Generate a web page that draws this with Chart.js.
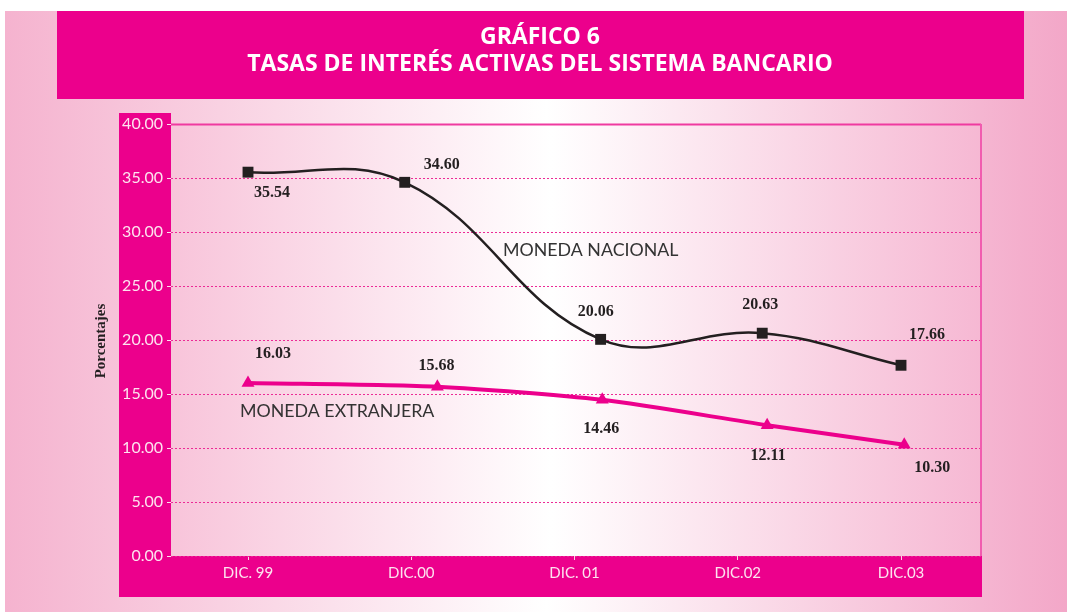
<!DOCTYPE html>
<html>
<head>
<meta charset="utf-8">
<script src="https://cdn.jsdelivr.net/npm/chart.js@4.4.0/dist/chart.umd.min.js"></script>
<style>
html,body{margin:0;padding:0;background:#fff;overflow:hidden;}
#wrap{width:1067px;height:612px;position:relative;}
</style>
</head>
<body>
<div id="wrap"><canvas id="c" width="1067" height="612"></canvas></div>
<script>
// ---- data ----
const titleLines = ['GRÁFICO 6', 'TASAS DE INTERÉS ACTIVAS DEL SISTEMA BANCARIO'];
const categories = ['DIC. 99', 'DIC.00', 'DIC. 01', 'DIC.02', 'DIC.03'];
const yTickValues = [0, 5, 10, 15, 20, 25, 30, 35, 40];
const yAxisTitle = 'Porcentajes';

const nacionalName = 'MONEDA NACIONAL';
const nacionalValues = [35.54, 34.60, 20.06, 20.63, 17.66];
const nacionalPeriod = [0, 0.96, 2.16, 3.15, 4.0];

const extranjeraName = 'MONEDA EXTRANJERA';
const extranjeraValues = [16.03, 15.68, 14.46, 12.11, 10.30];
const extranjeraPeriod = [0, 1.16, 2.17, 3.18, 4.02];

// ---- style ----
const MAGENTA = '#ec008c';
const nacionalLabelOffset = [[24, 21], [37, -17], [-5, -27], [-2, -28], [26, -30]];
const extranjeraLabelOffset = [[25, -29], [-1, -21], [-1, 29], [1, 31], [28, 23]];

const decorPlugin = {
  id: 'decor',
  beforeDraw(chart) {
    const ctx = chart.ctx;
    const a = chart.chartArea;
    ctx.save();
    ctx.fillStyle = '#ffffff';
    ctx.fillRect(0, 0, chart.width, chart.height);
    // outer background
    let g = ctx.createLinearGradient(5, 0, chart.width, 0);
    g.addColorStop(0, '#f5b3cf');
    g.addColorStop(0.51, '#ffffff');
    g.addColorStop(1, '#f3a7c8');
    ctx.fillStyle = g;
    ctx.fillRect(5, 11, chart.width - 5, chart.height - 11);
    // banner
    ctx.fillStyle = MAGENTA;
    ctx.fillRect(57, 11, 967, 88);
    ctx.fillStyle = '#ffffff';
    ctx.textAlign = 'center';
    ctx.textBaseline = 'middle';
    ctx.font = 'bold 23px "Open Sans"';
    ctx.fillText(titleLines[0], 540, 37);
    ctx.fillText(titleLines[1], 540, 64);
    // magenta L frame
    ctx.fillStyle = MAGENTA;
    ctx.fillRect(a.left - 52, a.top - 11, 52, a.bottom + 41 - (a.top - 11));
    ctx.fillRect(a.left - 52, a.bottom, a.right + 1 - (a.left - 52), 41);
    // plot area gradient
    g = ctx.createLinearGradient(a.left, 0, a.right, 0);
    g.addColorStop(0, '#f8c4da');
    g.addColorStop(0.47, '#ffffff');
    g.addColorStop(1, '#f6b8d3');
    ctx.fillStyle = g;
    ctx.fillRect(a.left, a.top, a.right - a.left, a.bottom - a.top);
    // y axis title
    ctx.translate(101, 341);
    ctx.rotate(-Math.PI / 2);
    ctx.fillStyle = '#231f20';
    ctx.font = 'bold 15px "Liberation Serif"';
    ctx.fillText(yAxisTitle, 0, 0);
    ctx.restore();
  },
  beforeDatasetsDraw(chart) {
    const ctx = chart.ctx;
    const a = chart.chartArea;
    ctx.save();
    ctx.strokeStyle = '#ef3aa0';
    ctx.lineWidth = 2;
    ctx.beginPath();
    ctx.moveTo(a.left, a.top + 0.5);
    ctx.lineTo(a.right, a.top + 0.5);
    ctx.stroke();
    ctx.strokeStyle = '#f15caf';
    ctx.beginPath();
    ctx.moveTo(a.right, a.top);
    ctx.lineTo(a.right, a.bottom);
    ctx.stroke();
    // series names
    const xs = chart.scales.x, ys = chart.scales.y;
    ctx.fillStyle = '#333333';
    ctx.font = '17.8px "Lato"';
    ctx.textAlign = 'left';
    ctx.textBaseline = 'middle';
    ctx.fillText(nacionalName, xs.getPixelForValue(1.562), ys.getPixelForValue(28.33));
    ctx.fillText(extranjeraName, xs.getPixelForValue(-0.049), ys.getPixelForValue(13.43));
    ctx.restore();
  },
  afterDatasetsDraw(chart) {
    const ctx = chart.ctx;
    ctx.save();
    ctx.fillStyle = '#231f20';
    ctx.font = 'bold 16px "Liberation Serif"';
    ctx.textAlign = 'center';
    ctx.textBaseline = 'middle';
    const sets = [[nacionalValues, nacionalLabelOffset], [extranjeraValues, extranjeraLabelOffset]];
    sets.forEach(([vals, offs], di) => {
      const meta = chart.getDatasetMeta(di);
      meta.data.forEach((pt, i) => {
        ctx.fillText(vals[i].toFixed(2), pt.x + offs[i][0], pt.y + offs[i][1]);
      });
    });
    ctx.restore();
  }
};

new Chart(document.getElementById('c'), {
  type: 'line',
  data: {
    datasets: [
      {
        label: nacionalName,
        data: nacionalPeriod.map((x, i) => ({ x: x, y: nacionalValues[i] })),
        borderColor: '#231f20',
        borderWidth: 2.5,
        tension: 0.4,
        pointStyle: 'rect',
        pointRadius: 7.7,
        pointBackgroundColor: '#231f20',
        pointBorderWidth: 0,
        fill: false
      },
      {
        label: extranjeraName,
        data: extranjeraPeriod.map((x, i) => ({ x: x, y: extranjeraValues[i] })),
        borderColor: MAGENTA,
        borderWidth: 4,
        tension: 0.25,
        pointStyle: 'triangle',
        pointRadius: 7.5,
        pointBackgroundColor: MAGENTA,
        pointBorderWidth: 0,
        fill: false
      }
    ]
  },
  options: {
    responsive: false,
    animation: false,
    devicePixelRatio: 1,
    layout: { padding: { left: 119, top: 124, right: 86, bottom: 15 } },
    plugins: { legend: { display: false }, tooltip: { enabled: false } },
    scales: {
      x: {
        type: 'linear',
        min: -0.4717,
        max: 4.49,
        afterBuildTicks: s => { s.ticks = categories.map((c, i) => ({ value: i })); },
        afterFit: s => { s.height = 41; },
        ticks: {
          callback: v => categories[Math.round(v)],
          color: '#fde3ef',
          font: { family: 'Lato', size: 15 },
          padding: 4,
          autoSkip: false,
          maxRotation: 0
        },
        grid: { drawOnChartArea: false, drawTicks: true, tickLength: 4, tickColor: '#fbd0e4', lineWidth: 1 },
        border: { display: false }
      },
      y: {
        min: 0,
        max: 40,
        afterBuildTicks: s => { s.ticks = yTickValues.map(v => ({ value: v })); },
        afterFit: s => { s.width = 52; },
        ticks: {
          callback: v => Number(v).toFixed(2),
          color: '#fde3ef',
          font: { family: 'Lato', size: 16 },
          padding: 4
        },
        grid: { color: '#ec2a96', lineWidth: 1, tickLength: 4, tickColor: '#fde3ef', drawOnChartArea: true },
        border: { display: false, dash: [2, 2] }
      }
    }
  },
  plugins: [decorPlugin]
});
</script>
</body>
</html>
